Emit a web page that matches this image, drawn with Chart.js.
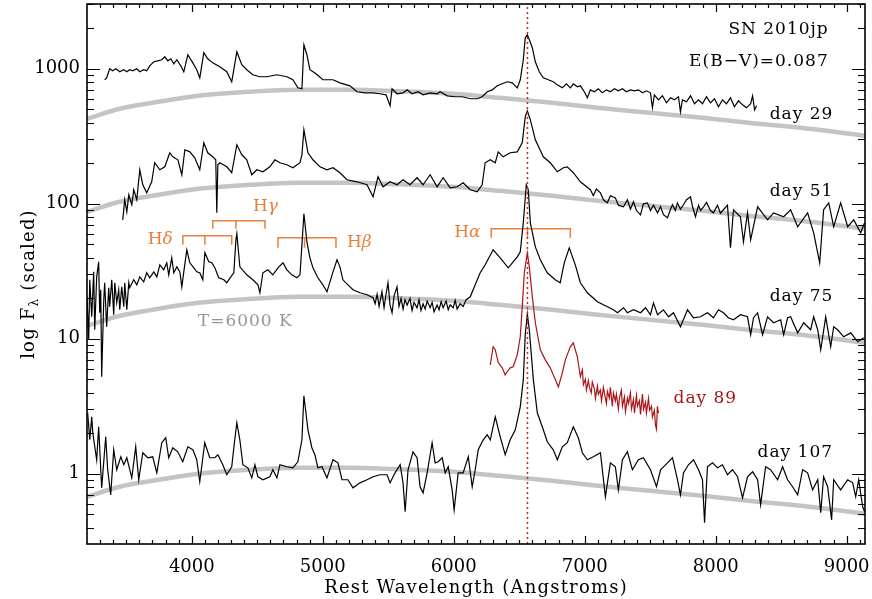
<!DOCTYPE html>
<html>
<head>
<meta charset="utf-8">
<script src="https://cdn.jsdelivr.net/npm/chart.js@4"></script>
<style>
html, body { margin: 0; padding: 0; background: #fff; }
canvas { display: block; }
</style>
</head>
<body>
<canvas id="grafico" width="872" height="599"></canvas>
<script>
// spectra: [rest wavelength (A), log10 F (scaled)]
const day29 = [[3335,2.919],[3350,2.933],[3373,3.000],[3396,2.985],[3420,3.000],[3450,2.978],[3481,2.993],[3504,2.978],[3526,2.993],[3549,2.985],[3580,3.000],[3603,2.978],[3633,2.993],[3656,2.985],[3679,3.022],[3710,3.052],[3740,3.059],[3771,3.067],[3794,3.089],[3817,3.059],[3840,3.074],[3863,3.037],[3886,3.067],[3916,3.022],[3939,2.978],[3970,3.104],[4008,3.044],[4038,2.993],[4061,2.933],[4092,3.119],[4122,3.074],[4160,3.044],[4214,3.015],[4267,2.978],[4305,2.904],[4344,3.126],[4382,3.030],[4420,2.993],[4466,2.956],[4519,2.941],[4573,2.941],[4649,2.956],[4726,2.941],[4772,2.919],[4810,2.859],[4841,2.852],[4856,3.178],[4879,3.104],[4902,2.993],[4948,2.963],[5001,2.919],[5078,2.919],[5131,2.896],[5208,2.874],[5261,2.830],[5322,2.822],[5384,2.822],[5437,2.815],[5483,2.807],[5514,2.726],[5529,2.852],[5567,2.815],[5613,2.822],[5644,2.844],[5682,2.815],[5728,2.830],[5766,2.807],[5820,2.822],[5873,2.815],[5896,2.830],[5950,2.800],[6011,2.793],[6065,2.793],[6126,2.778],[6179,2.778],[6217,2.793],[6256,2.830],[6294,2.844],[6332,2.874],[6370,2.889],[6408,2.904],[6447,2.896],[6485,2.859],[6508,2.919],[6531,3.067],[6546,3.230],[6562,3.252],[6577,3.215],[6600,3.156],[6623,3.052],[6653,2.978],[6684,2.933],[6722,2.919],[6760,2.904],[6791,2.881],[6829,2.859],[6860,2.889],[6890,2.859],[6913,2.889],[6944,2.867],[6967,2.874],[6997,2.830],[7020,2.785],[7043,2.844],[7074,2.830],[7104,2.852],[7135,2.822],[7166,2.844],[7196,2.830],[7227,2.852],[7257,2.837],[7288,2.852],[7318,2.830],[7349,2.844],[7380,2.837],[7410,2.844],[7441,2.822],[7471,2.837],[7502,2.822],[7517,2.711],[7532,2.807],[7563,2.770],[7593,2.800],[7624,2.748],[7655,2.785],[7685,2.770],[7716,2.793],[7731,2.681],[7746,2.770],[7777,2.756],[7808,2.800],[7838,2.741],[7869,2.770],[7899,2.741],[7930,2.793],[7960,2.748],[7991,2.778],[8021,2.719],[8052,2.770],[8082,2.741],[8113,2.785],[8143,2.719],[8174,2.763],[8205,2.733],[8235,2.711],[8267,2.741],[8282,2.800],[8297,2.696],[8312,2.726]];

const day51 = [[3473,1.881],[3488,2.030],[3504,1.941],[3519,2.067],[3542,1.993],[3557,2.104],[3580,2.030],[3603,2.252],[3626,2.141],[3656,2.082],[3694,2.163],[3717,2.304],[3756,2.252],[3794,2.274],[3832,2.378],[3855,2.348],[3894,2.326],[3924,2.215],[3947,2.400],[3985,2.385],[4023,2.341],[4061,2.252],[4092,2.452],[4122,2.378],[4160,2.348],[4183,2.326],[4191,1.933],[4199,2.289],[4214,2.304],[4267,2.274],[4305,2.230],[4344,2.437],[4382,2.363],[4420,2.326],[4458,2.215],[4497,2.252],[4543,2.237],[4596,2.274],[4634,2.326],[4673,2.304],[4726,2.289],[4772,2.267],[4826,2.304],[4841,2.363],[4856,2.548],[4887,2.378],[4925,2.326],[4979,2.274],[5032,2.252],[5078,2.267],[5131,2.230],[5185,2.178],[5261,2.163],[5338,2.141],[5384,2.052],[5422,2.200],[5460,2.126],[5514,2.163],[5567,2.141],[5613,2.178],[5666,2.141],[5720,2.193],[5766,2.141],[5820,2.215],[5873,2.126],[5919,2.193],[5973,2.119],[6026,2.126],[6072,2.156],[6126,2.104],[6179,2.089],[6217,2.141],[6240,2.304],[6279,2.326],[6317,2.304],[6340,2.385],[6378,2.348],[6431,2.378],[6485,2.385],[6523,2.452],[6546,2.644],[6562,2.689],[6585,2.622],[6623,2.474],[6684,2.348],[6737,2.304],[6791,2.237],[6837,2.267],[6867,2.274],[6913,2.230],[6967,2.163],[7043,2.104],[7066,2.060],[7089,2.110],[7120,2.082],[7143,2.030],[7173,2.007],[7196,2.060],[7234,2.044],[7257,1.990],[7296,1.978],[7326,2.030],[7349,1.960],[7372,2.015],[7395,1.950],[7426,1.918],[7448,2.000],[7479,2.007],[7502,1.950],[7525,1.990],[7556,1.933],[7579,1.980],[7601,1.920],[7632,1.896],[7655,1.960],[7670,1.993],[7692,1.950],[7708,2.007],[7731,1.960],[7754,1.993],[7777,2.030],[7808,2.052],[7823,1.980],[7846,1.904],[7869,1.990],[7884,1.950],[7907,1.978],[7930,2.010],[7960,1.950],[7983,1.933],[8014,1.990],[8036,1.930],[8059,1.956],[8090,1.990],[8113,1.674],[8136,1.956],[8189,1.904],[8212,1.718],[8243,1.933],[8267,1.733],[8320,1.978],[8396,1.881],[8442,1.933],[8519,1.904],[8572,1.956],[8626,1.830],[8702,1.933],[8748,1.785],[8794,1.563],[8824,1.956],[8863,2.007],[8901,1.830],[8954,2.007],[9008,1.830],[9054,1.881],[9107,1.785],[9137,1.859]];

const day75 = [[3200,1.311],[3213,0.993],[3221,1.437],[3236,1.163],[3251,1.496],[3259,1.067],[3274,1.459],[3289,1.570],[3297,1.193],[3305,1.363],[3312,0.719],[3328,1.289],[3335,1.415],[3350,1.089],[3366,1.378],[3373,1.237],[3389,1.437],[3404,1.178],[3412,1.415],[3427,1.267],[3442,1.363],[3450,1.215],[3465,1.385],[3481,1.237],[3488,1.415],[3504,1.215],[3519,1.415],[3526,1.378],[3557,1.437],[3580,1.400],[3603,1.459],[3633,1.422],[3656,1.489],[3679,1.452],[3710,1.496],[3733,1.459],[3756,1.548],[3786,1.511],[3809,1.563],[3824,1.474],[3847,1.600],[3863,1.489],[3886,1.533],[3909,1.496],[3924,1.385],[3939,1.496],[3962,1.659],[3985,1.563],[4016,1.526],[4038,1.496],[4061,1.489],[4084,1.437],[4100,1.637],[4130,1.570],[4153,1.563],[4176,1.526],[4206,1.452],[4245,1.437],[4267,1.415],[4298,1.459],[4321,1.489],[4337,1.733],[4344,1.778],[4367,1.533],[4420,1.474],[4466,1.437],[4505,1.400],[4520,1.341],[4543,1.489],[4581,1.511],[4619,1.474],[4658,1.526],[4696,1.563],[4726,1.511],[4764,1.474],[4803,1.452],[4826,1.474],[4841,1.696],[4856,1.926],[4879,1.718],[4902,1.600],[4925,1.526],[4963,1.452],[5001,1.400],[5032,1.348],[5055,1.422],[5078,1.496],[5109,1.585],[5131,1.533],[5154,1.437],[5192,1.400],[5231,1.363],[5284,1.341],[5338,1.326],[5384,1.304],[5400,1.260],[5415,1.330],[5430,1.240],[5452,1.348],[5468,1.230],[5483,1.330],[5498,1.415],[5514,1.250],[5529,1.193],[5545,1.320],[5567,1.385],[5582,1.240],[5598,1.300],[5613,1.220],[5628,1.290],[5644,1.250],[5666,1.300],[5682,1.210],[5697,1.270],[5720,1.230],[5735,1.290],[5750,1.210],[5766,1.260],[5782,1.220],[5797,1.280],[5820,1.230],[5835,1.270],[5850,1.200],[5873,1.250],[5888,1.215],[5904,1.275],[5919,1.230],[5942,1.280],[5958,1.215],[5973,1.252],[5996,1.230],[6011,1.285],[6026,1.220],[6049,1.260],[6072,1.240],[6095,1.290],[6126,1.311],[6164,1.400],[6202,1.489],[6240,1.548],[6301,1.659],[6355,1.600],[6416,1.526],[6454,1.570],[6485,1.607],[6508,1.644],[6531,1.859],[6554,2.141],[6569,2.104],[6585,1.859],[6623,1.681],[6661,1.585],[6714,1.489],[6775,1.437],[6813,1.415],[6844,1.563],[6882,1.674],[6928,1.548],[6967,1.415],[7020,1.341],[7097,1.274],[7173,1.237],[7219,1.215],[7250,1.193],[7296,1.230],[7326,1.193],[7372,1.215],[7426,1.193],[7464,1.230],[7502,1.178],[7525,1.267],[7556,1.178],[7601,1.215],[7640,1.163],[7678,1.193],[7731,1.089],[7785,1.215],[7831,1.156],[7884,1.163],[7937,1.193],[7983,1.156],[8021,1.215],[8059,1.193],[8097,1.156],[8136,1.141],[8189,1.178],[8243,1.163],[8267,1.030],[8289,1.156],[8320,1.193],[8358,1.030],[8396,1.163],[8442,1.119],[8496,1.141],[8519,1.030],[8549,1.156],[8572,1.163],[8626,1.044],[8672,1.119],[8725,1.067],[8748,1.163],[8779,1.067],[8802,0.919],[8840,1.163],[8878,0.941],[8901,1.089],[8931,1.067],[8977,1.015],[9031,1.044],[9085,0.978],[9130,1.007]];

const day89 = [[6279,0.807],[6301,0.941],[6317,0.919],[6340,0.822],[6370,0.785],[6393,0.733],[6408,0.756],[6431,0.785],[6454,0.793],[6485,0.881],[6508,1.015],[6523,1.237],[6539,1.489],[6562,1.637],[6577,1.533],[6600,1.311],[6623,1.119],[6661,0.919],[6699,0.844],[6737,0.785],[6776,0.696],[6799,0.644],[6829,0.748],[6852,0.844],[6890,0.941],[6913,0.970],[6944,0.867],[6967,0.719],[6982,0.770],[6990,0.660],[7005,0.700],[7013,0.620],[7028,0.690],[7036,0.640],[7050,0.600],[7058,0.680],[7074,0.630],[7082,0.560],[7097,0.650],[7104,0.590],[7120,0.620],[7128,0.540],[7143,0.640],[7150,0.600],[7166,0.520],[7173,0.610],[7188,0.560],[7196,0.640],[7211,0.500],[7219,0.600],[7234,0.540],[7242,0.590],[7257,0.480],[7265,0.560],[7280,0.620],[7288,0.500],[7303,0.570],[7311,0.460],[7326,0.560],[7334,0.520],[7349,0.600],[7357,0.480],[7372,0.550],[7380,0.450],[7395,0.580],[7403,0.500],[7418,0.540],[7426,0.440],[7441,0.590],[7449,0.480],[7464,0.530],[7471,0.450],[7487,0.560],[7495,0.470],[7510,0.500],[7517,0.420],[7532,0.470],[7540,0.360],[7548,0.330],[7555,0.500],[7563,0.450]];

const day107 = [[3205,0.452],[3221,0.252],[3236,0.422],[3244,0.304],[3274,0.104],[3289,0.348],[3312,-0.104],[3343,0.274],[3358,0.030],[3381,-0.156],[3404,0.178],[3427,0.030],[3458,0.126],[3481,0.067],[3504,0.119],[3542,-0.030],[3572,0.200],[3595,-0.044],[3626,0.156],[3664,0.119],[3702,0.126],[3733,0.007],[3771,0.230],[3801,0.267],[3824,0.119],[3855,0.193],[3893,0.163],[3931,0.089],[3970,0.200],[4008,0.178],[4038,0.104],[4061,-0.059],[4099,0.230],[4137,0.119],[4176,0.119],[4199,0.141],[4237,0.067],[4267,-0.007],[4305,0.052],[4328,0.252],[4344,0.378],[4367,0.252],[4390,0.067],[4428,0.044],[4458,-0.030],[4482,0.067],[4505,-0.022],[4543,-0.044],[4596,-0.022],[4619,0.030],[4650,-0.030],[4673,0.067],[4726,0.052],[4772,0.044],[4810,0.089],[4841,0.252],[4856,0.578],[4887,0.326],[4917,0.193],[4940,0.141],[4963,0.044],[4994,0.052],[5032,-0.030],[5078,0.104],[5116,0.081],[5147,-0.044],[5192,-0.044],[5231,-0.104],[5284,-0.067],[5338,-0.044],[5384,-0.022],[5437,-0.007],[5491,-0.007],[5514,-0.067],[5552,0.007],[5591,0.067],[5613,-0.067],[5629,-0.281],[5651,0.030],[5689,0.163],[5720,0.119],[5743,-0.096],[5766,-0.141],[5797,0.007],[5835,0.230],[5858,0.081],[5881,0.089],[5912,0.119],[5935,0.007],[5958,0.052],[5988,-0.119],[6003,-0.267],[6034,0.007],[6072,0.007],[6111,0.126],[6141,-0.096],[6164,0.030],[6187,0.178],[6225,0.252],[6256,0.289],[6279,0.252],[6317,0.422],[6355,0.274],[6393,0.141],[6431,0.252],[6470,0.326],[6508,0.496],[6531,0.696],[6546,1.030],[6562,1.185],[6577,1.067],[6608,0.696],[6638,0.452],[6684,0.326],[6714,0.237],[6760,0.178],[6791,0.104],[6829,0.200],[6867,0.230],[6913,0.348],[6951,0.267],[6982,0.156],[7020,0.104],[7066,0.126],[7120,0.156],[7158,-0.170],[7196,0.081],[7234,0.052],[7257,-0.119],[7288,0.104],[7326,0.163],[7364,0.030],[7410,0.104],[7448,0.119],[7502,0.030],[7548,-0.096],[7579,0.030],[7632,0.081],[7670,0.119],[7708,-0.044],[7731,-0.156],[7754,0.007],[7792,0.067],[7831,0.104],[7869,0.030],[7899,-0.044],[7915,-0.363],[7937,0.052],[7976,0.081],[8014,0.044],[8052,0.067],[8090,-0.007],[8128,0.030],[8167,-0.022],[8205,-0.178],[8243,-0.022],[8282,0.015],[8320,-0.044],[8343,-0.230],[8381,0.052],[8419,0.030],[8473,-0.044],[8511,0.052],[8549,-0.044],[8587,-0.096],[8626,-0.156],[8664,0.030],[8702,0.007],[8740,-0.119],[8779,-0.044],[8802,-0.289],[8824,-0.022],[8855,-0.096],[8885,-0.341],[8901,-0.044],[8954,-0.119],[9008,-0.044],[9046,-0.067],[9069,-0.170],[9092,-0.044],[9122,-0.244],[9137,-0.281]];

// T=6000 K blackbody curves, one under each spectrum
const bb29 = [[3200,2.630],[3450,2.704],[3700,2.748],[4050,2.800],[4450,2.830],[4800,2.844],[5200,2.844],[5600,2.833],[6000,2.815],[6350,2.785],[6750,2.748],[7100,2.711],[7500,2.674],[7900,2.637],[8250,2.600],[8650,2.563],[9140,2.504]];
const bb51 = [[3200,1.941],[3450,2.015],[3700,2.059],[4050,2.111],[4450,2.141],[4800,2.156],[5200,2.156],[5600,2.144],[6000,2.126],[6350,2.096],[6750,2.059],[7100,2.022],[7500,1.985],[7900,1.948],[8250,1.911],[8650,1.874],[9140,1.815]];
const bb75 = [[3200,1.096],[3450,1.170],[3700,1.215],[4050,1.267],[4450,1.296],[4800,1.311],[5200,1.311],[5600,1.300],[6000,1.281],[6350,1.252],[6750,1.215],[7100,1.178],[7500,1.141],[7900,1.104],[8250,1.067],[8650,1.030],[9140,0.970]];
const bb107 = [[3200,-0.170],[3450,-0.096],[3700,-0.052],[4050,0.000],[4450,0.030],[4800,0.044],[5200,0.044],[5600,0.033],[6000,0.015],[6350,-0.015],[6750,-0.052],[7100,-0.089],[7500,-0.126],[7900,-0.163],[8250,-0.200],[8650,-0.237],[9140,-0.296]];

// line ID brackets: [blue end, rest, red end] wavelengths, bracket top, tick foot
const brackets = [
  { name: '\u03B4', waves: [3932, 4100, 4305], top: 1.763, foot: 1.696, labelX: 3664, labelY: 1.733 },
  { name: '\u03B3', waves: [4161, 4337, 4559], top: 1.874, foot: 1.815, labelX: 4467, labelY: 1.978 },
  { name: '\u03B2', waves: [4658, 4861, 5101], top: 1.748, foot: 1.674, labelX: 5185, labelY: 1.711 },
  { name: '\u03B1', waves: [6286, 6563, 6890], top: 1.815, foot: 1.748, labelX: 6003, labelY: 1.785 }
];

const xTicks = [4000, 5000, 6000, 7000, 8000, 9000];
const yTicks = [0, 1, 2, 3];
const yTickLabels = ['1', '10', '100', '1000'];
const haRest = 6563;

const X_MIN = 3200, X_MAX = 9140, Y_MIN = -0.52, Y_MAX = 3.48;
const serif = "'DejaVu Serif', 'Liberation Serif', serif";
const ORANGE = 'rgb(232,128,58)';
const RED = 'rgb(170,20,24)';
const GREY = 'rgb(196,196,196)';

const notes = [
  { text: 'SN 2010jp', x: 8863, y: 3.289, align: 'right', color: '#000' },
  { text: 'E(B\u2212V)=0.087', x: 8863, y: 3.052, align: 'right', color: '#000' },
  { text: 'day 29', x: 8412, y: 2.659, align: 'left', color: '#000' },
  { text: 'day 51', x: 8412, y: 2.089, align: 'left', color: '#000' },
  { text: 'day 75', x: 8412, y: 1.311, align: 'left', color: '#000' },
  { text: 'day 89', x: 7678, y: 0.556, align: 'left', color: RED },
  { text: 'day 107', x: 8320, y: 0.156, align: 'left', color: '#000' },
  { text: 'T=6000 K', x: 4046, y: 1.126, align: 'left', color: 'rgb(150,150,150)' }
];

const pts = arr => arr.map(p => ({ x: p[0], y: p[1] }));

function spectrum(data, color) {
  return { data: pts(data), borderColor: color, borderWidth: 1.2, showLine: true,
           pointRadius: 0, tension: 0, order: 1 };
}
function blackbody(data) {
  return { data: pts(data), borderColor: GREY, borderWidth: 4.5, showLine: true,
           pointRadius: 0, cubicInterpolationMode: 'monotone', order: 4 };
}
function bracket(b) {
  const [a, m, c] = b.waves;
  const path = [[a, b.foot], [a, b.top], [m, b.top], [m, b.foot], [m, b.top], [c, b.top], [c, b.foot]];
  return { data: pts(path), borderColor: ORANGE, borderWidth: 1.5, showLine: true,
           pointRadius: 0, tension: 0, order: 3 };
}

const datasets = [
  { data: pts([[haRest, Y_MIN], [haRest, Y_MAX]]), borderColor: 'rgb(215,30,30)', borderWidth: 1.5,
    borderDash: [2, 3], showLine: true, pointRadius: 0, order: 0 },
  spectrum(day29, '#000'),
  spectrum(day51, '#000'),
  spectrum(day75, '#000'),
  spectrum(day89, RED),
  spectrum(day107, '#000'),
  ...brackets.map(bracket),
  blackbody(bb29), blackbody(bb51), blackbody(bb75), blackbody(bb107)
];

const framePlugin = {
  id: 'frame',
  afterDraw(chart) {
    const { ctx, chartArea: a, scales: { x, y } } = chart;
    ctx.save();
    ctx.strokeStyle = '#000';
    ctx.lineWidth = 1.2;
    ctx.beginPath();
    // x ticks, inward, top and bottom
    for (let w = 3300; w <= 9100; w += 100) {
      const px = Math.round(x.getPixelForValue(w)) + 0.5;
      const len = w % 1000 === 0 ? 8 : 4;
      ctx.moveTo(px, a.bottom); ctx.lineTo(px, a.bottom - len);
      ctx.moveTo(px, a.top); ctx.lineTo(px, a.top + len);
    }
    // y ticks, log decades with minor ticks, left and right
    for (let d = -1; d <= 3; d++) {
      for (let m = 1; m <= 9; m++) {
        const v = d + Math.log10(m);
        if (v < Y_MIN || v > Y_MAX) continue;
        const py = Math.round(y.getPixelForValue(v)) + 0.5;
        const len = m === 1 ? 13 : 7;
        ctx.moveTo(a.left, py); ctx.lineTo(a.left + len, py);
        ctx.moveTo(a.right, py); ctx.lineTo(a.right - len, py);
      }
    }
    ctx.stroke();
    ctx.lineWidth = 1.6;
    ctx.strokeRect(a.left, a.top, a.right - a.left, a.bottom - a.top);

    // annotations
    ctx.textBaseline = 'middle';
    ctx.letterSpacing = '1px';
    ctx.font = '17px ' + serif;
    notes.forEach(n => {
      ctx.fillStyle = n.color;
      ctx.textAlign = n.align;
      ctx.fillText(n.text, x.getPixelForValue(n.x), y.getPixelForValue(n.y));
    });
    ctx.textAlign = 'left';
    ctx.fillStyle = ORANGE;
    brackets.forEach(b => {
      const px = x.getPixelForValue(b.labelX), py = y.getPixelForValue(b.labelY);
      ctx.font = '17px ' + serif;
      ctx.fillText('H', px, py);
      const w = ctx.measureText('H').width;
      ctx.font = 'italic 17px ' + serif;
      ctx.fillText(b.name, px + w - 1, py);
    });

    // axis titles
    ctx.fillStyle = '#000';
    ctx.font = '18px ' + serif;
    ctx.letterSpacing = '1.2px';
    ctx.textAlign = 'center';
    ctx.textBaseline = 'alphabetic';
    ctx.fillText('Rest Wavelength (Angstroms)', (a.left + a.right) / 2, 593);

    ctx.translate(34, 284);
    ctx.rotate(-Math.PI / 2);
    ctx.textAlign = 'left';
    const p1 = 'log F', p3 = ' (scaled)';
    ctx.font = '18px ' + serif;
    const w1 = ctx.measureText(p1).width, w3 = ctx.measureText(p3).width;
    ctx.font = '12px ' + serif;
    const w2 = ctx.measureText('\u03BB').width;
    let sx = -(w1 + w2 + w3) / 2;
    ctx.font = '18px ' + serif;
    ctx.fillText(p1, sx, 0);
    ctx.font = '12px ' + serif;
    ctx.fillText('\u03BB', sx + w1, 4);
    ctx.font = '18px ' + serif;
    ctx.fillText(p3, sx + w1 + w2, 0);
    ctx.restore();
  }
};

new Chart(document.getElementById('grafico'), {
  type: 'scatter',
  data: { datasets },
  options: {
    responsive: false,
    animation: false,
    devicePixelRatio: 1,
    layout: { padding: { top: 4, right: 7, left: 0, bottom: 0 } },
    plugins: { legend: { display: false }, tooltip: { enabled: false } },
    scales: {
      x: {
        type: 'linear', min: X_MIN, max: X_MAX,
        grid: { display: false, drawTicks: false },
        border: { display: false },
        afterFit: s => { s.height = 55; s.paddingLeft = 0; s.paddingRight = 0; },
        afterBuildTicks: s => { s.ticks = xTicks.map(v => ({ value: v })); },
        ticks: { padding: 13, color: '#000', font: { family: serif, size: 18 }, maxRotation: 0,
                 callback: v => String(v) }
      },
      y: {
        type: 'linear', min: Y_MIN, max: Y_MAX,
        grid: { display: false, drawTicks: false },
        border: { display: false },
        afterFit: s => { s.width = 87; s.paddingTop = 0; s.paddingBottom = 0; },
        afterBuildTicks: s => { s.ticks = yTicks.map(v => ({ value: v })); },
        ticks: { padding: 7, color: '#000', font: { family: serif, size: 18 },
                 callback: v => yTickLabels[yTicks.indexOf(v)] }
      }
    }
  },
  plugins: [framePlugin]
});
</script>
</body>
</html>
